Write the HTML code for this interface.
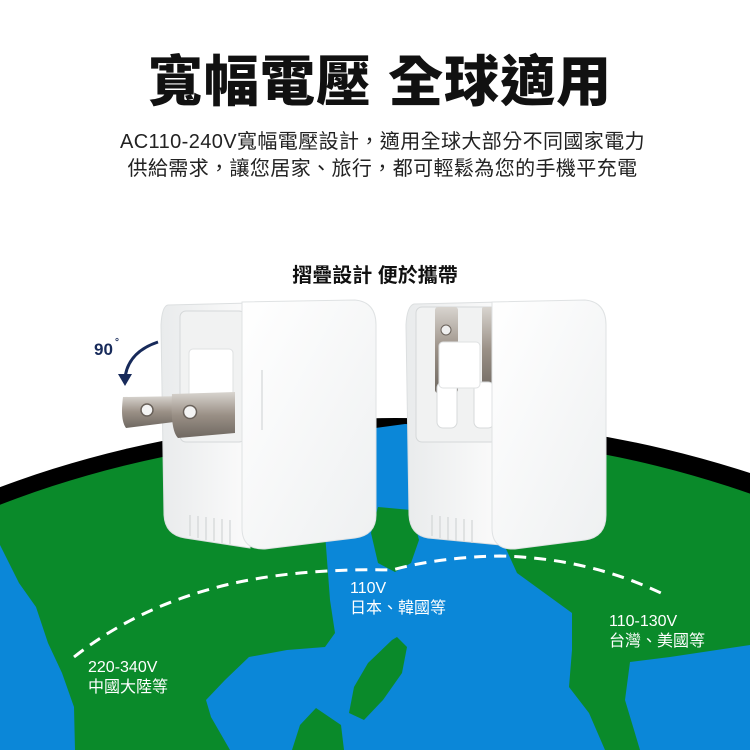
<!DOCTYPE html>
<html><head><meta charset="utf-8"><style>
html,body{margin:0;padding:0;background:#fff;}
body{width:750px;height:750px;position:relative;overflow:hidden;font-family:"Liberation Sans","Noto Sans CJK TC",sans-serif;}
.t{position:absolute;left:0;width:750px;text-align:center;color:#111;white-space:nowrap;}
</style></head><body>
<svg width="750" height="750" style="position:absolute;left:0;top:0;display:block" xmlns="http://www.w3.org/2000/svg">
<defs>
<linearGradient id="wf" x1="0" y1="0" x2="1" y2="1"><stop offset="0" stop-color="#ffffff"/><stop offset="1" stop-color="#eef0f1"/></linearGradient>
<linearGradient id="ws" x1="0" y1="0" x2="1" y2="0"><stop offset="0" stop-color="#e9ebec"/><stop offset="1" stop-color="#fbfbfb"/></linearGradient>
<linearGradient id="mt" x1="0" y1="0" x2="0" y2="1"><stop offset="0" stop-color="#d8d4cf"/><stop offset="0.5" stop-color="#9a9086"/><stop offset="1" stop-color="#6f6861"/></linearGradient>
<clipPath id="cv"><rect x="0" y="0" width="750" height="750"/></clipPath>
</defs>
<g clip-path="url(#cv)">
<ellipse cx="395" cy="948" rx="800" ry="530" fill="#000"/>
<ellipse cx="390" cy="977" rx="790" ry="543" fill="#0a8a2a"/>
<polygon fill="#0b87d8" points="0,545 19,583 36,607 48,643 62,673 74,707 75,750 0,750"/>
<polygon fill="#0b87d8" points="345,432 405,424 500,428 502,540 517,573 550,597 572,613 572,650 569,687 589,713 605,750 344,750 341,725 316,708 300,725 292,750 230,750 211,717 206,700 225,680 249,657 287,650 325,647 335,633 330,600 325,533 335,480"/>
<polygon fill="#0b87d8" points="630,662 670,657 750,645 750,750 640,750 625,700"/>
<polygon fill="#0a8a2a" points="378,507 411,510 419,540 411,563 395,572 378,563 371,533"/>
<polygon fill="#0a8a2a" points="397,637 407,647 402,673 383,700 364,720 349,713 354,687 368,663 392,640"/>
<path d="M74,657 Q140,605 230,584 Q300,568 392,570 Q440,557 500,556 Q590,558 665,595" fill="none" stroke="#fff" stroke-width="3" stroke-dasharray="12,8"/>

<g>
<path d="M168,305 L250,303 L250,548 L185,538 Q165,535 164,515 L161,325 Q162,306 168,305Z" fill="url(#ws)" stroke="#dcdfe0" stroke-width="1"/>
<rect x="180" y="311" width="65" height="131" rx="6" fill="#f1f2f2" stroke="#d5d8d9"/>
<rect x="189" y="349" width="44" height="62" rx="4" fill="#fff" stroke="#dfe1e2"/>
<line x1="245" y1="445" x2="245" y2="535" stroke="#ddd"/>
<g stroke="#d2d5d6" stroke-width="1.2"><line x1="190" y1="515" x2="190" y2="536"/><line x1="198" y1="516" x2="198" y2="538"/><line x1="206" y1="517" x2="206" y2="540"/><line x1="214" y1="518" x2="214" y2="541"/><line x1="222" y1="519" x2="222" y2="543"/><line x1="230" y1="520" x2="230" y2="544"/></g>
<path d="M242,302 L355,300 Q376,302 376,325 L376,515 Q376,535 355,538 L265,549 Q242,550 242,528Z" fill="url(#wf)" stroke="#dfe2e3"/>
<line x1="262" y1="370" x2="262" y2="430" stroke="#e3e5e6" stroke-width="2"/>
<path d="M123,397 L190,396 L190,420 L126,428 Q120,420 123,397Z" fill="url(#mt)"/>
<circle cx="147" cy="410" r="6" fill="#f4f4f4" stroke="#6a625b" stroke-width="1.5"/>
<path d="M172,394 L235,392 L235,433 L178,438 Q170,430 172,394Z" fill="url(#mt)"/>
<circle cx="190" cy="412" r="6.5" fill="#f4f4f4" stroke="#6a625b" stroke-width="1.5"/>
</g>
<path d="M158,342 Q128,352 125,378" fill="none" stroke="#172a5a" stroke-width="3"/>
<polygon points="118,374 132,374 125,386" fill="#172a5a"/>
<text x="94" y="355" font-family="Liberation Sans,sans-serif" font-weight="bold" font-size="17" fill="#172a5a">90</text>
<text x="115" y="345" font-family="Liberation Sans,sans-serif" font-weight="bold" font-size="10" fill="#172a5a">°</text>

<g>
<path d="M414,304 L500,302 L500,545 L428,538 Q410,535 409,515 L406,325 Q407,306 414,304Z" fill="url(#ws)" stroke="#dcdfe0"/>
<rect x="416" y="307" width="81" height="135" rx="6" fill="#f1f2f2" stroke="#d5d8d9"/>
<rect x="435" y="307" width="23" height="86" rx="3" fill="url(#mt)"/>
<circle cx="446" cy="330" r="5" fill="#efefef" stroke="#6a625b"/>
<rect x="482" y="307" width="12" height="86" rx="2" fill="url(#mt)"/>
<rect x="437" y="382" width="20" height="46" rx="6" fill="#fff" stroke="#d7dadb"/>
<rect x="474" y="382" width="20" height="46" rx="6" fill="#fff" stroke="#d7dadb"/>
<rect x="439" y="342" width="41" height="46" rx="4" fill="#fff" stroke="#dfe1e2"/>
<g stroke="#d2d5d6" stroke-width="1.2"><line x1="432" y1="515" x2="432" y2="536"/><line x1="440" y1="516" x2="440" y2="538"/><line x1="448" y1="517" x2="448" y2="540"/><line x1="456" y1="518" x2="456" y2="541"/><line x1="464" y1="519" x2="464" y2="542"/><line x1="472" y1="520" x2="472" y2="543"/></g>
<path d="M492,302 L585,300 Q606,302 606,325 L606,515 Q606,537 585,540 L515,549 Q492,550 492,528Z" fill="url(#wf)" stroke="#dfe2e3"/>
</g>
</g>
</svg>

<div class="t" style="top:47px;left:10px;width:740px;height:70px;font-size:55px;line-height:70px;font-weight:900;letter-spacing:1px;">寬幅電壓 全球適用</div>
<div class="t" style="top:129px;left:15px;width:735px;height:54px;font-size:20px;line-height:27px;color:#222;letter-spacing:0.4px;">AC110-240V寬幅電壓設計，適用全球大部分不同國家電力<br>供給需求，讓您居家、旅行，都可輕鬆為您的手機平充電</div>
<div class="t" style="top:262px;height:28px;font-size:20px;line-height:28px;font-weight:bold;">摺疊設計 便於攜帶</div>

<div style="position:absolute;left:350px;top:579px;color:#fff;font-size:16px;line-height:20px;white-space:nowrap;">110V<br>日本、韓國等</div>
<div style="position:absolute;left:609px;top:612px;color:#fff;font-size:16px;line-height:20px;white-space:nowrap;">110-130V<br>台灣、美國等</div>
<div style="position:absolute;left:88px;top:658px;color:#fff;font-size:16px;line-height:20px;white-space:nowrap;">220-340V<br>中國大陸等</div>
</body></html>
